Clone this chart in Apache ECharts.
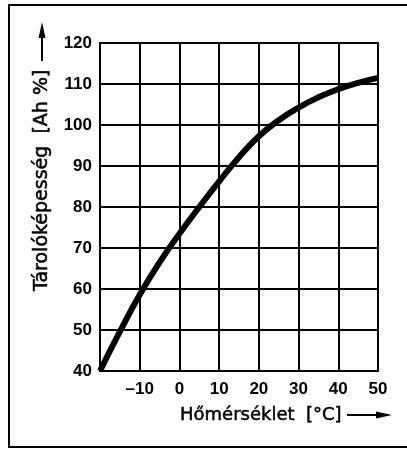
<!DOCTYPE html>
<html>
<head>
<meta charset="utf-8">
<script src="https://cdn.jsdelivr.net/npm/echarts@6/dist/echarts.min.js"></script>
<style>
  html, body { margin: 0; padding: 0; background: #fff; }
  #chart { width: 407px; height: 449px; }
</style>
</head>
<body>
<div id="chart"></div>
<script>
// Battery storage capacity versus temperature
const temperatures = [-20, -15, -10, -5, 0, 5, 10, 15, 20, 25, 30, 35, 40, 45, 50];
const capacity     = [40, 49.6, 58.6, 66.5, 73.5, 80, 86.25, 92.15, 97.25, 101.15, 104.25, 106.75, 108.75, 110.3, 111.5];
const xTicks = [-10, 0, 10, 20, 30, 40, 50];
const yTicks = [40, 50, 60, 70, 80, 90, 100, 110, 120];

const xName = 'Hőmérséklet  [°C]';
const yName = 'Tárolóképesség  [Ah %]';

const TICK_FONT = 'Liberation Sans';
const NAME_FONT = '"DejaVu Sans"';
const INK = '#000';

const chart = echarts.init(document.getElementById('chart'), null, { renderer: 'canvas' });

chart.setOption({
  backgroundColor: '#fff',
  animation: false,
  grid: {
    left: 100, right: 29, top: 43, bottom: 78,
    show: true, borderColor: INK, borderWidth: 2
  },
  xAxis: {
    type: 'value',
    min: -20, max: 50, interval: 10,
    axisLine: { show: true, lineStyle: { color: INK, width: 2 } },
    axisTick: { show: false },
    splitLine: { show: true, lineStyle: { color: INK, width: 2 } },
    axisLabel: {
      color: INK, fontFamily: TICK_FONT, fontSize: 17, fontWeight: 'bold', margin: 10,
      formatter: v => xTicks.includes(v) ? (v < 0 ? '\u2013' + Math.abs(v) : String(v)) : ''
    }
  },
  yAxis: {
    type: 'value',
    min: 40, max: 120, interval: 10,
    axisLine: { show: true, lineStyle: { color: INK, width: 2 } },
    axisTick: { show: false },
    splitLine: { show: true, lineStyle: { color: INK, width: 2 } },
    axisLabel: {
      color: INK, fontFamily: TICK_FONT, fontSize: 17, fontWeight: 'bold', margin: 8,
      formatter: v => yTicks.includes(v) ? String(v) : ''
    }
  },
  series: [{
    type: 'line',
    data: temperatures.map((t, i) => [t, capacity[i]]),
    smooth: 0.5,
    showSymbol: false,
    lineStyle: { color: INK, width: 6, cap: 'butt' },
    clip: true
  }],
  graphic: [
    // outer frame
    { type: 'rect', shape: { x: 9, y: 5, width: 410, height: 442 },
      style: { fill: 'none', stroke: INK, lineWidth: 2 }, silent: true },
    // horizontal axis title with arrow
    { type: 'text', x: 180, y: 415,
      style: { text: xName, fill: INK, stroke: INK, lineWidth: 0.5,
               font: '18px ' + NAME_FONT, textAlign: 'left', textVerticalAlign: 'middle' } },
    { type: 'line', shape: { x1: 347, y1: 415, x2: 384, y2: 415 },
      style: { stroke: INK, lineWidth: 2 } },
    { type: 'polygon', shape: { points: [[376, 411.5], [392, 415], [376, 418.5]] },
      style: { fill: INK } },
    // vertical axis title with arrow
    { type: 'text', x: 42, y: 291, rotation: Math.PI / 2,
      style: { text: yName, fill: INK, stroke: INK, lineWidth: 0.5,
               font: '19px ' + NAME_FONT, textAlign: 'left', textVerticalAlign: 'middle' } },
    { type: 'line', shape: { x1: 42, y1: 61, x2: 42, y2: 32 },
      style: { stroke: INK, lineWidth: 2 } },
    { type: 'polygon', shape: { points: [[38.5, 38], [42, 22], [45.5, 38]] },
      style: { fill: INK } }
  ]
});
</script>
</body>
</html>
